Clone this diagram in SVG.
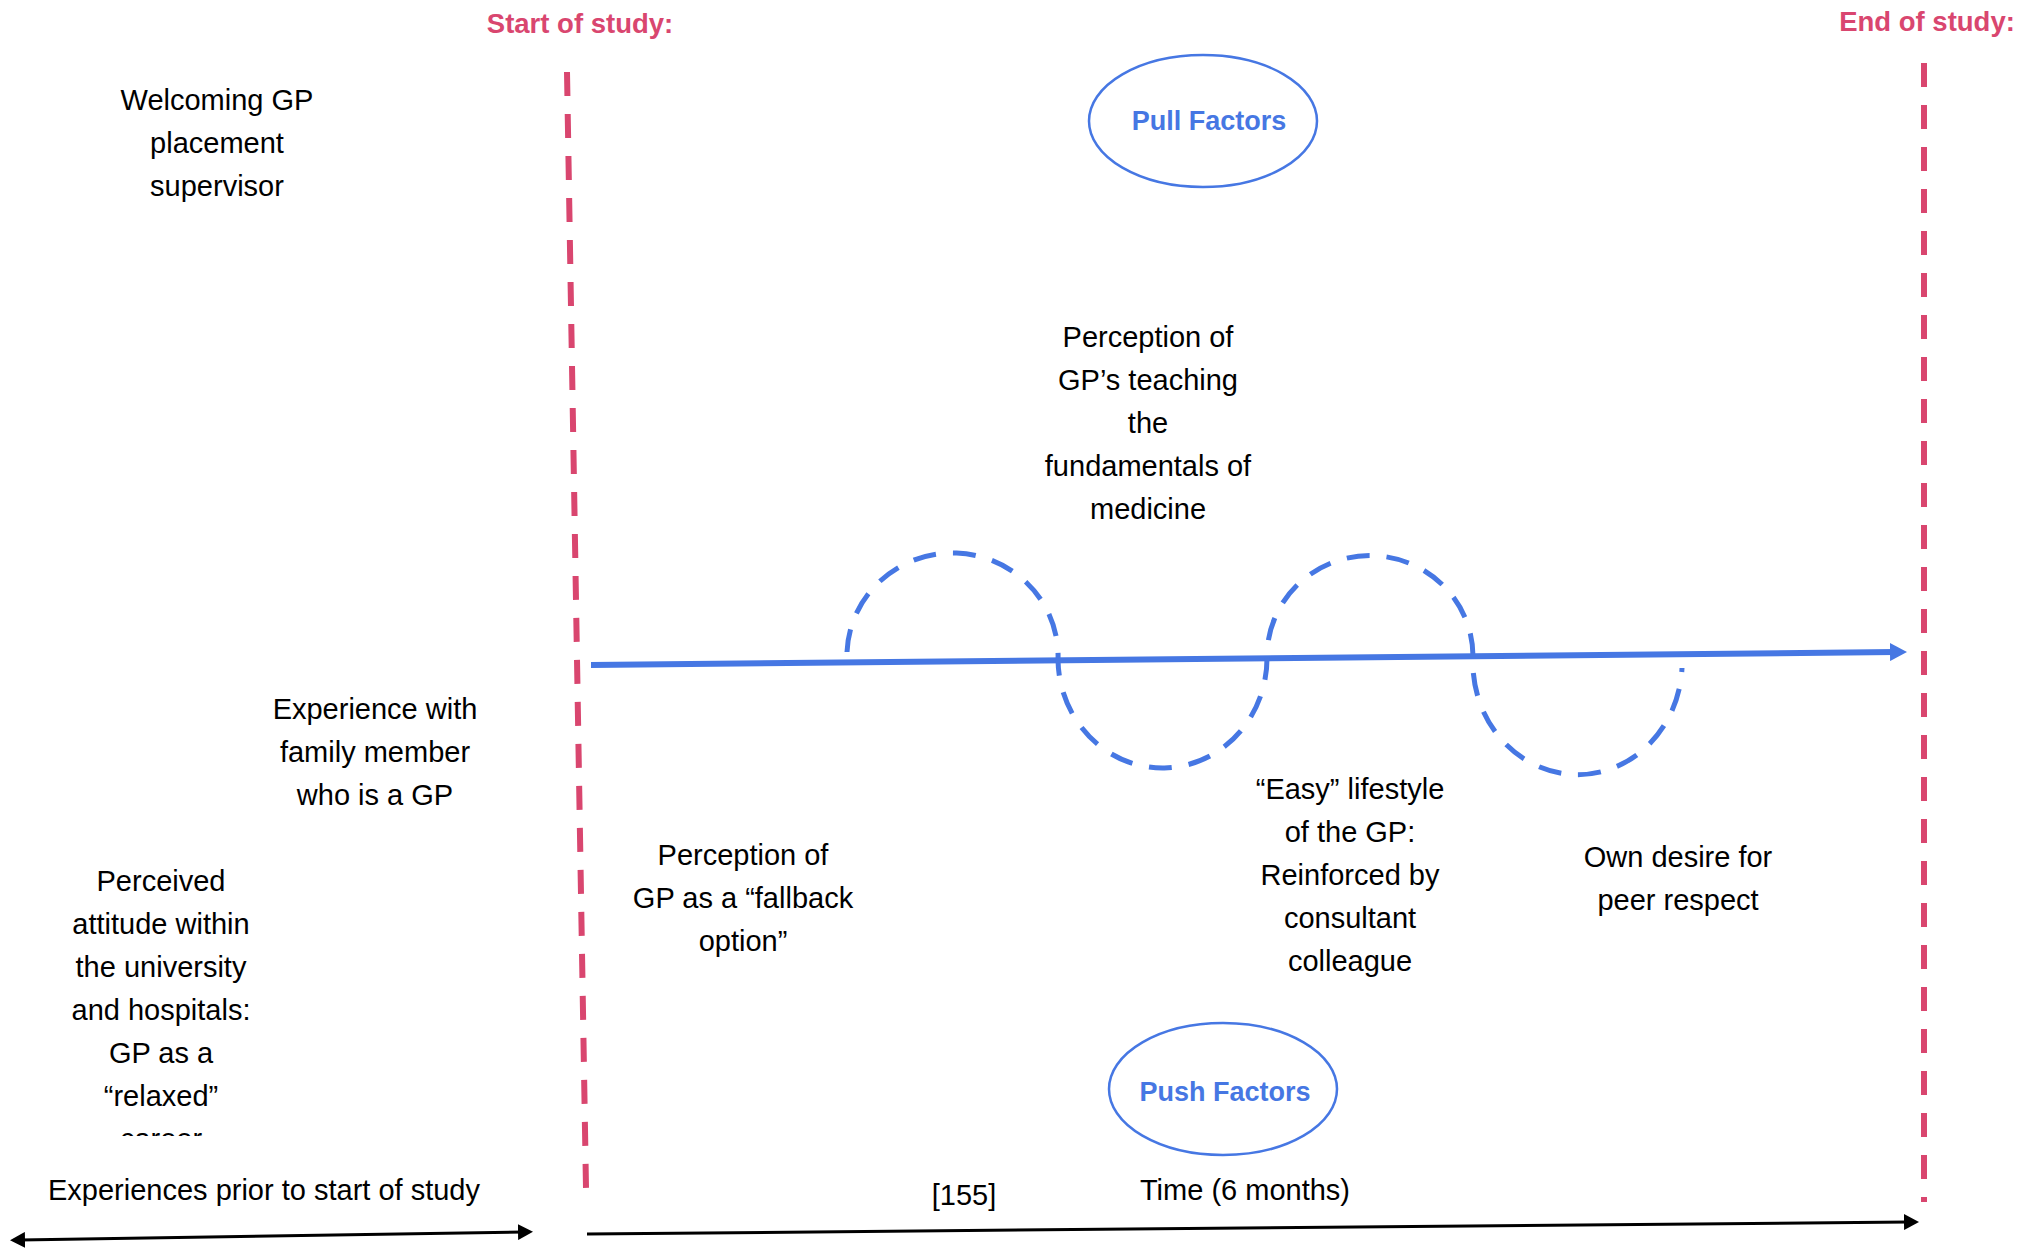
<svg xmlns="http://www.w3.org/2000/svg" width="2037" height="1250" viewBox="0 0 2037 1250">
  <style>
    .txt { font-family: "Liberation Sans", Arial, sans-serif; font-size: 29px; fill: #000; text-anchor: middle; }
    .mark { font-family: "Liberation Sans", Arial, sans-serif; font-size: 27.5px; font-weight: bold; fill: #D9466F; text-anchor: middle; }
    .factor { font-family: "Liberation Sans", Arial, sans-serif; font-size: 27px; font-weight: bold; fill: #4677E3; text-anchor: middle; }
    .bound { stroke: #D9466F; stroke-width: 6; stroke-dasharray: 24 18; fill: none; }
    .oval { fill: none; stroke: #4677E3; stroke-width: 2.5; }
    .wave { fill: none; stroke: #4677E3; stroke-width: 5; stroke-dasharray: 23 17; }
    .trend { stroke: #4677E3; stroke-width: 6; fill: none; }
    .axis { stroke: #000; stroke-width: 3; fill: none; }
  </style>
  <defs>
    <marker id="blueHead" markerUnits="userSpaceOnUse" markerWidth="17" markerHeight="18" refX="5" refY="9" orient="auto">
      <path d="M0,0 L17,9 L0,18 z" fill="#4677E3"/>
    </marker>
    <marker id="blackHead" markerUnits="userSpaceOnUse" markerWidth="15" markerHeight="16" refX="5" refY="8" orient="auto-start-reverse">
      <path d="M0,0 L15,8 L0,16 z" fill="#000"/>
    </marker>
    <clipPath id="leftClip">
      <rect x="0" y="850" width="560" height="286"/>
    </clipPath>
  </defs>

  <rect width="2037" height="1250" fill="#fff"/>

  <!-- study boundaries -->
  <g id="start-of-study">
    <line class="bound" x1="567" y1="72" x2="586" y2="1188"/>
    <text class="mark" x="580" y="33">Start of study:</text>
  </g>
  <g id="end-of-study">
    <line class="bound" x1="1924" y1="63" x2="1924" y2="1202"/>
    <text class="mark" x="1927" y="31">End of study:</text>
  </g>

  <!-- factor ovals -->
  <g id="pull-factors">
    <ellipse class="oval" cx="1203" cy="121" rx="114" ry="66"/>
    <text class="factor" x="1209" y="130">Pull Factors</text>
  </g>
  <g id="push-factors">
    <ellipse class="oval" cx="1223" cy="1089" rx="114" ry="66"/>
    <text class="factor" x="1225" y="1101">Push Factors</text>
  </g>

  <!-- connectors: trend line, oscillation and time axes -->
  <g id="connectors">
    <line class="trend" x1="591" y1="665" x2="1895" y2="652" marker-end="url(#blueHead)"/>
    <path class="wave" d="M847,652 A105.5,103 0 0 1 1058,660 A104.5,110 0 0 0 1267,656 A103,101 0 0 1 1473,657 A104.5,112 0 0 0 1682,668"/>
    <line class="axis" x1="20" y1="1240" x2="523" y2="1232" marker-start="url(#blackHead)" marker-end="url(#blackHead)"/>
    <line class="axis" x1="587" y1="1234" x2="1909" y2="1222" marker-end="url(#blackHead)"/>
  </g>

  <!-- influences before the study -->
  <g id="welcoming-supervisor">
    <text class="txt" x="217" y="110">Welcoming GP</text>
    <text class="txt" x="217" y="153">placement</text>
    <text class="txt" x="217" y="196">supervisor</text>
  </g>
  <g id="family-member">
    <text class="txt" x="375" y="719">Experience with</text>
    <text class="txt" x="375" y="762">family member</text>
    <text class="txt" x="375" y="805">who is a GP</text>
  </g>
  <g id="perceived-attitude" clip-path="url(#leftClip)">
    <text class="txt" x="161" y="891">Perceived</text>
    <text class="txt" x="161" y="934">attitude within</text>
    <text class="txt" x="161" y="977">the university</text>
    <text class="txt" x="161" y="1020">and hospitals:</text>
    <text class="txt" x="161" y="1063">GP as a</text>
    <text class="txt" x="161" y="1106">“relaxed”</text>
    <text class="txt" x="161" y="1149">career</text>
  </g>

  <!-- influences during the study -->
  <g id="fundamentals">
    <text class="txt" x="1148" y="347">Perception of</text>
    <text class="txt" x="1148" y="390">GP’s teaching</text>
    <text class="txt" x="1148" y="433">the</text>
    <text class="txt" x="1148" y="476">fundamentals of</text>
    <text class="txt" x="1148" y="519">medicine</text>
  </g>
  <g id="fallback-option">
    <text class="txt" x="743" y="865">Perception of</text>
    <text class="txt" x="743" y="908">GP as a “fallback</text>
    <text class="txt" x="743" y="951">option”</text>
  </g>
  <g id="easy-lifestyle">
    <text class="txt" x="1350" y="799">“Easy” lifestyle</text>
    <text class="txt" x="1350" y="842">of the GP:</text>
    <text class="txt" x="1350" y="885">Reinforced by</text>
    <text class="txt" x="1350" y="928">consultant</text>
    <text class="txt" x="1350" y="971">colleague</text>
  </g>
  <g id="peer-respect">
    <text class="txt" x="1678" y="867">Own desire for</text>
    <text class="txt" x="1678" y="910">peer respect</text>
  </g>

  <!-- axis labels -->
  <g id="axis-labels">
    <text class="txt" x="264" y="1200">Experiences prior to start of study</text>
    <text class="txt" x="964" y="1205">[155]</text>
    <text class="txt" x="1245" y="1200">Time (6 months)</text>
  </g>
</svg>
